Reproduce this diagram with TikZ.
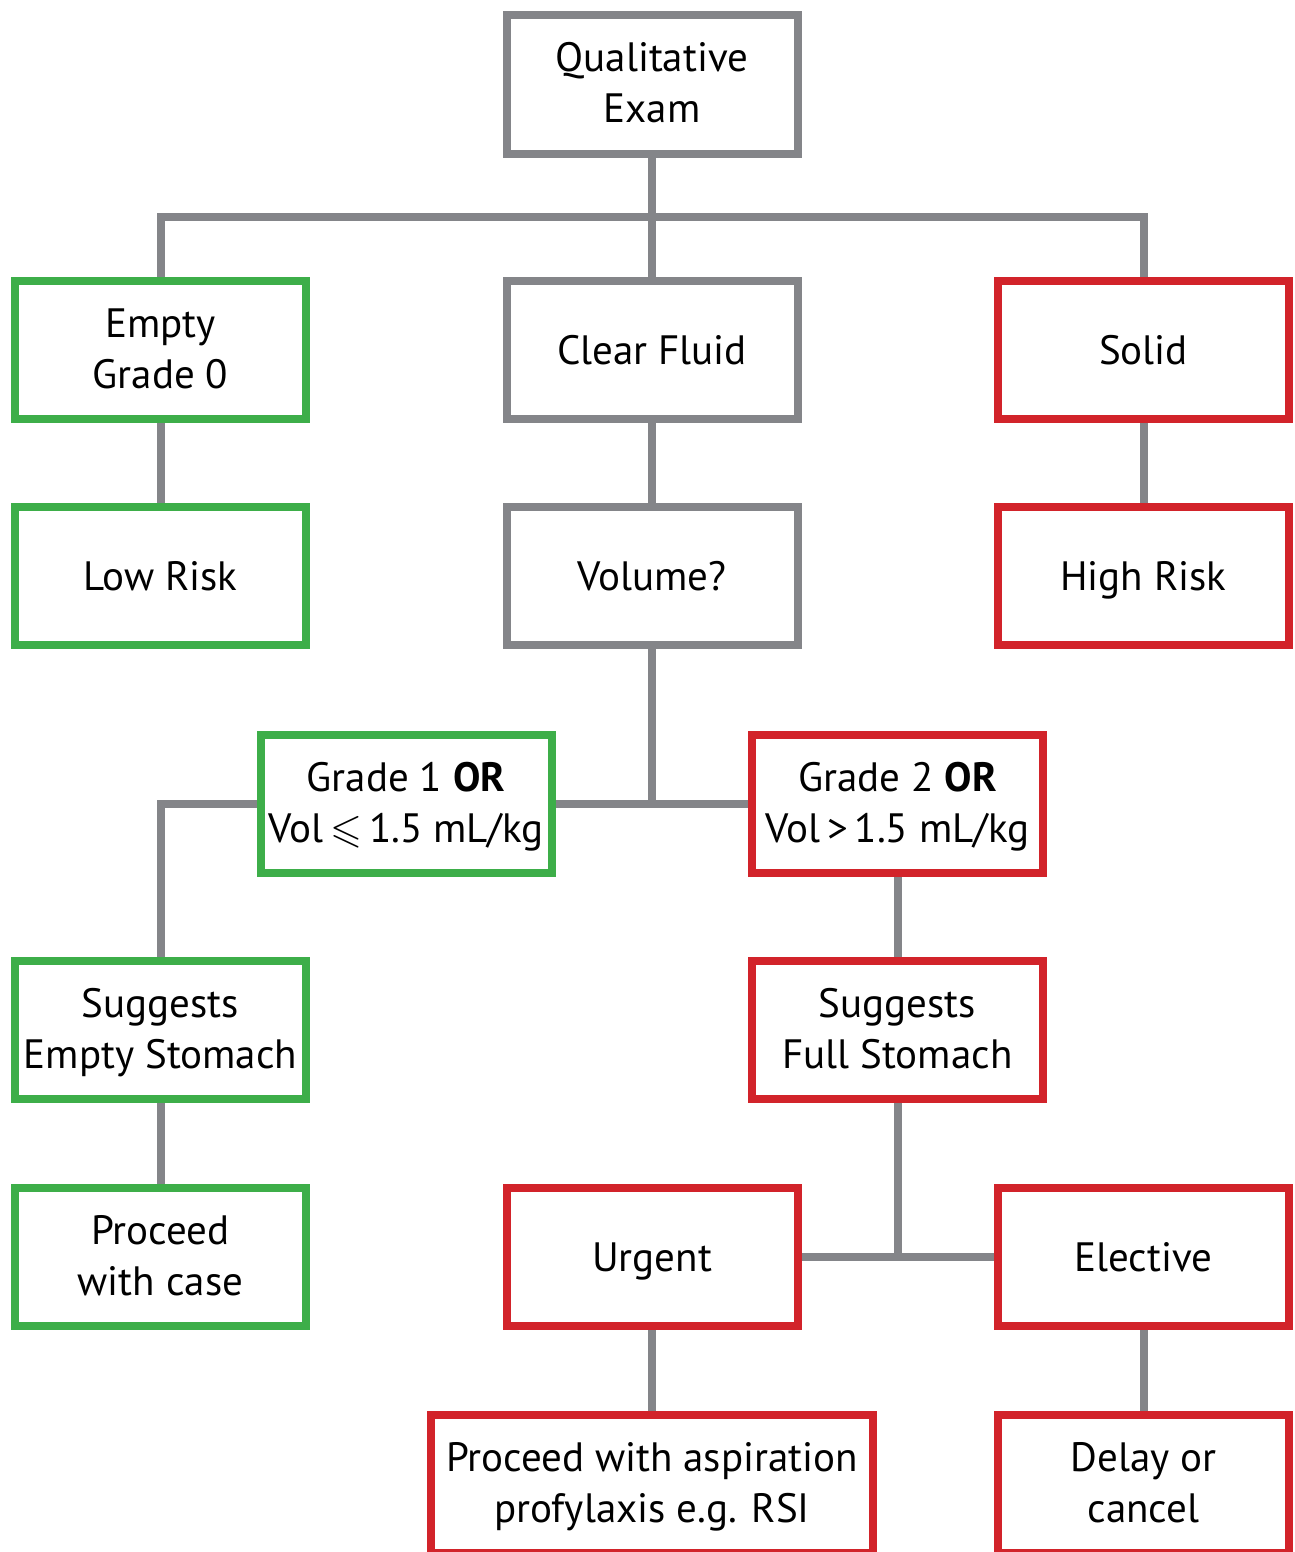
\documentclass[tikz,border=0pt]{standalone}
\usepackage{amsmath,amssymb}
\usepackage{xcolor}
\usepackage{fontspec}
\setmainfont{PT Sans}
\usepackage{tikz}
\usetikzlibrary{backgrounds}

\definecolor{boxgreen}{HTML}{3DAE49}
\definecolor{boxred}{HTML}{D2232A}
\definecolor{linegray}{HTML}{848589}

\begin{document}
\begin{tikzpicture}[x=0.5pt,y=-0.5pt,
            box/.style={shape=rectangle, draw, line width=4pt, fill=white, inner sep=0pt,
                minimum width=145.5pt, minimum height=69pt, align=center,
                font=\fontsize{20.5pt}{25.5pt}\selectfont},
            gbox/.style={box, draw=linegray},
            okbox/.style={box, draw=boxgreen},
            riskbox/.style={box, draw=boxred},
            oneline/.style={text height=17pt, text depth=2.2pt},
            twoline/.style={text height=42.5pt, text depth=4pt},
            link/.style={draw=linegray, line width=4pt}]
        \useasboundingbox (0,0) rectangle (1295,1552);

        \node[gbox, twoline] (exam) at (652,84.5) {Qualitative\\Exam};

        \node[okbox, twoline] (empty) at (160.5,349.5) {Empty\\Grade 0};
        \node[gbox, oneline] (clear) at (652,349.5) {Clear Fluid};
        \node[riskbox, oneline] (solid) at (1143.5,349.5) {Solid};

        \node[okbox, oneline] (lowrisk) at (160.5,576) {Low Risk};
        \node[gbox, oneline] (volume) at (652,576) {Volume?};
        \node[riskbox, oneline] (highrisk) at (1143.5,576) {High Risk};

        \node[okbox, twoline] (grade1) at (406,803.5) {Grade 1 \textbf{OR}\\Vol$\,\leqslant\,$1.5 mL/kg};
        \node[riskbox, twoline] (grade2) at (897.5,803.5) {Grade 2 \textbf{OR}\\Vol\,>\,1.5 mL/kg};

        \node[okbox, twoline] (emptyst) at (160.5,1030) {Suggests\\Empty Stomach};
        \node[riskbox, twoline] (fullst) at (897.5,1030) {Suggests\\Full Stomach};

        \node[okbox, twoline] (proceed) at (160.5,1257) {Proceed\\with case};
        \node[riskbox, oneline] (urgent) at (652,1257) {Urgent};
        \node[riskbox, oneline] (elective) at (1143.5,1257) {Elective};

        \node[riskbox, twoline, minimum width=221pt] (aspir) at (652,1484) {Proceed with aspiration\\profylaxis e.g. RSI};
        \node[riskbox, twoline] (delay) at (1143.5,1484) {Delay or\\cancel};

        \coordinate (split) at (652,217);
        \coordinate (volsplit) at (652,802);

        \begin{scope}[on background layer]
        \draw[link] (exam.south) -- (clear.north);
        \draw[link] (empty.north) |- (split) -| (solid.north);
        \draw[link] (empty.south) -- (lowrisk.north);
        \draw[link] (clear.south) -- (volume.north);
        \draw[link] (solid.south) -- (highrisk.north);

        \draw[link] (volume.south) -- (volsplit);
        \draw[link] (grade1.east) -- (grade2.west);
        \draw[link] (grade1.west) -| (emptyst.north);
        \draw[link] (grade2.south) -- (fullst.north);
        \draw[link] (emptyst.south) -- (proceed.north);

        \draw[link] (fullst.south) |- (urgent.east);
        \draw[link] (urgent.east) -- (elective.west);
        \draw[link] (urgent.south) -- (aspir.north);
        \draw[link] (elective.south) -- (delay.north);
        \end{scope}
    \end{tikzpicture}
\end{document}
